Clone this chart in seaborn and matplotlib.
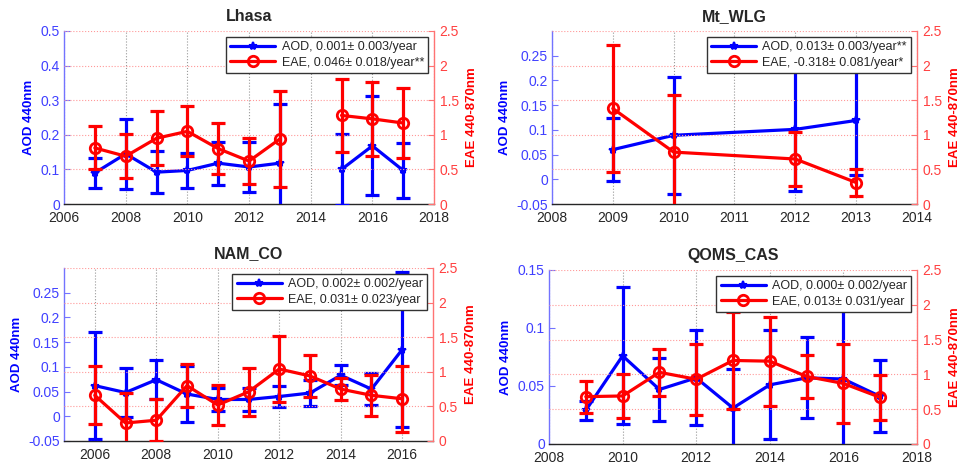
import numpy as np
import pandas as pd
import matplotlib
matplotlib.use("Agg")
import matplotlib.pyplot as plt
from matplotlib.lines import Line2D
from matplotlib.ticker import FuncFormatter
import seaborn as sns

nan = np.nan

# ---- Lhasa ----
lhasa_years = [2007, 2008, 2009, 2010, 2011, 2012, 2013, 2014, 2015, 2016, 2017]
lhasa_aod = [0.090, 0.145, 0.092, 0.097, 0.118, 0.107, 0.118, nan, 0.100, 0.168, 0.097]
lhasa_aod_sd = [0.044, 0.102, 0.060, 0.050, 0.062, 0.072, 0.170, nan, 0.103, 0.143, 0.080]
lhasa_eae = [0.81, 0.69, 0.95, 1.05, 0.80, 0.62, 0.94, nan, 1.28, 1.23, 1.17]
lhasa_eae_sd = [0.31, 0.32, 0.39, 0.36, 0.37, 0.33, 0.70, nan, 0.53, 0.53, 0.51]
lhasa_labels = ["AOD, 0.001\u00b1 0.003/year", "EAE, 0.046\u00b1 0.018/year**"]

# ---- Mt_WLG ----
wlg_years = [2009, 2010, 2012, 2013]
wlg_aod = [0.060, 0.089, 0.101, 0.119]
wlg_aod_sd = [0.064, 0.118, 0.125, 0.110]
wlg_eae = [1.38, 0.75, 0.65, 0.31]
wlg_eae_sd = [0.92, 0.82, 0.39, 0.19]
wlg_labels = ["AOD, 0.013\u00b1 0.003/year**", "EAE, -0.318\u00b1 0.081/year*"]

# ---- NAM_CO ----
nam_years = [2006, 2007, 2008, 2009, 2010, 2011, 2012, 2013, 2014, 2015, 2016]
nam_aod = [0.062, 0.048, 0.074, 0.045, 0.034, 0.034, 0.040, 0.047, 0.083, 0.055, 0.135]
nam_aod_sd = [0.108, 0.049, 0.040, 0.056, 0.024, 0.024, 0.021, 0.026, 0.020, 0.033, 0.157]
nam_eae = [0.66, 0.26, 0.30, 0.80, 0.52, 0.71, 1.04, 0.94, 0.75, 0.66, 0.61]
nam_eae_sd = [0.42, 0.43, 0.30, 0.31, 0.29, 0.345, 0.47, 0.305, 0.16, 0.295, 0.475]
nam_labels = ["AOD, 0.002\u00b1 0.002/year", "EAE, 0.031\u00b1 0.023/year"]

# ---- QOMS_CAS ----
qoms_years = [2009, 2010, 2011, 2012, 2013, 2014, 2015, 2016, 2017]
qoms_aod = [0.029, 0.076, 0.047, 0.057, 0.031, 0.051, 0.057, 0.056, 0.041]
qoms_aod_sd = [0.008, 0.059, 0.027, 0.041, 0.034, 0.047, 0.035, 0.062, 0.031]
qoms_eae = [0.68, 0.69, 1.03, 0.93, 1.20, 1.19, 0.97, 0.87, 0.67]
qoms_eae_sd = [0.23, 0.31, 0.34, 0.51, 0.70, 0.64, 0.305, 0.565, 0.325]
qoms_labels = ["AOD, 0.000\u00b1 0.002/year", "EAE, 0.013\u00b1 0.031/year"]

eae_ticks = [0, 0.5, 1, 1.5, 2, 2.5]

stations = [
    dict(title="Lhasa", years=lhasa_years, aod=lhasa_aod, aod_sd=lhasa_aod_sd,
         eae=lhasa_eae, eae_sd=lhasa_eae_sd, labels=lhasa_labels,
         xlim=(2006, 2018), xticks=[2006, 2008, 2010, 2012, 2014, 2016, 2018],
         ylim=(0, 0.5), yticks=[0, 0.1, 0.2, 0.3, 0.4, 0.5],
         pos=[0.0665, 0.5641, 0.3842, 0.3697]),
    dict(title="Mt_WLG", years=wlg_years, aod=wlg_aod, aod_sd=wlg_aod_sd,
         eae=wlg_eae, eae_sd=wlg_eae_sd, labels=wlg_labels,
         xlim=(2008, 2014), xticks=[2008, 2009, 2010, 2011, 2012, 2013, 2014],
         ylim=(-0.05, 0.3), yticks=[-0.05, 0, 0.05, 0.1, 0.15, 0.2, 0.25],
         pos=[0.5732, 0.5641, 0.3790, 0.3697]),
    dict(title="NAM_CO", years=nam_years, aod=nam_aod, aod_sd=nam_aod_sd,
         eae=nam_eae, eae_sd=nam_eae_sd, labels=nam_labels,
         xlim=(2005, 2017), xticks=[2006, 2008, 2010, 2012, 2014, 2016],
         ylim=(-0.05, 0.3), yticks=[-0.05, 0, 0.05, 0.1, 0.15, 0.2, 0.25],
         pos=[0.0665, 0.0577, 0.3831, 0.3697]),
    dict(title="QOMS_CAS", years=qoms_years, aod=qoms_aod, aod_sd=qoms_aod_sd,
         eae=qoms_eae, eae_sd=qoms_eae_sd, labels=qoms_labels,
         xlim=(2008, 2018), xticks=[2008, 2010, 2012, 2014, 2016, 2018],
         ylim=(0, 0.15), yticks=[0, 0.05, 0.1, 0.15],
         pos=[0.5701, 0.0513, 0.3821, 0.3718]),
]

sns.set_style("white")
plt.rcParams["font.family"] = ["Liberation Sans", "DejaVu Sans"]
plt.rcParams["axes.unicode_minus"] = False

BLUE = (0, 0, 1)
RED = (1, 0, 0)
BLUE_TXT = (0.25, 0.25, 1)
RED_TXT = (1, 0.25, 0.25)
fmt = FuncFormatter(lambda v, p: f"{v:g}")


def draw_series(ax, years, mean, sd, color, marker, mkw):
    df = pd.DataFrame({"year": years, "value": mean, "sd": sd})
    # break the line wherever a year has no data
    df["seg"] = df["value"].isna().cumsum()
    df = df.dropna()
    for _, seg in df.groupby("seg"):
        sns.lineplot(data=seg, x="year", y="value", ax=ax, color=color,
                     linewidth=2.3, marker=marker, legend=False, **mkw)
    ax.errorbar(df["year"], df["value"], yerr=df["sd"], fmt="none",
                ecolor=color, elinewidth=2.3, capsize=5, capthick=2.3, zorder=3)


fig = plt.figure(figsize=(9.63, 4.68), dpi=100)

for st in stations:
    ax = fig.add_axes(st["pos"])
    ax2 = ax.twinx()

    aod_kw = dict(markersize=6, markeredgecolor=BLUE, markerfacecolor=BLUE,
                  markeredgewidth=1.5)
    eae_kw = dict(markersize=7.5, markeredgecolor=RED, markerfacecolor="none",
                  markeredgewidth=2.0)
    draw_series(ax, st["years"], st["aod"], st["aod_sd"], BLUE, "*", aod_kw)
    draw_series(ax2, st["years"], st["eae"], st["eae_sd"], RED, "o", eae_kw)

    ax.set_xlim(*st["xlim"])
    ax.set_xticks(st["xticks"])
    ax.set_ylim(*st["ylim"])
    ax.set_yticks(st["yticks"])
    ax.yaxis.set_major_formatter(fmt)
    ax2.set_ylim(0, 2.5)
    ax2.set_yticks(eae_ticks)
    ax2.yaxis.set_major_formatter(fmt)

    # vertical grid on the year axis, horizontal grid from the EAE axis
    ax.grid(axis="x", linestyle=":", color="0.6", linewidth=0.8)
    ax.grid(axis="y", visible=False)
    ax2.grid(axis="y", linestyle=":", color=(1, 0.6, 0.6), linewidth=0.8)
    ax2.grid(axis="x", visible=False)
    ax.set_axisbelow(True)

    for sp in ["top", "right"]:
        ax.spines[sp].set_visible(False)
    for sp in ["top", "left", "bottom"]:
        ax2.spines[sp].set_visible(False)
    ax.spines["left"].set_color((0.45, 0.45, 1))
    ax.spines["left"].set_linewidth(1.0)
    ax.spines["bottom"].set_color("0.15")
    ax.spines["bottom"].set_linewidth(1.0)
    ax2.spines["right"].set_color((1, 0.45, 0.45))
    ax2.spines["right"].set_linewidth(1.0)

    ax.tick_params(axis="x", direction="in", length=4, width=0.8,
                   colors="0.15", labelsize=10, pad=5)
    ax.tick_params(axis="y", direction="in", length=4, width=0.8,
                   color=(0.45, 0.45, 1), labelcolor=BLUE_TXT, labelsize=10, pad=3)
    ax2.tick_params(axis="y", direction="in", length=4, width=0.8,
                    color=(1, 0.45, 0.45), labelcolor=RED_TXT, labelsize=10, pad=4)

    ax.set_xlabel("")
    ax.set_ylabel("AOD 440nm", color=BLUE, fontsize=9.5, fontweight="bold", labelpad=4)
    ax2.set_ylabel("EAE 440-870nm", color=RED, fontsize=9.5, fontweight="bold", labelpad=5)
    ax.set_title(st["title"], fontsize=11.5, fontweight="bold", pad=7)

    handles = [
        Line2D([], [], color=BLUE, linewidth=2.3, marker="*", **aod_kw),
        Line2D([], [], color=RED, linewidth=2.3, marker="o", **eae_kw),
    ]
    leg = ax2.legend(handles, st["labels"], loc="upper right", fontsize=9,
                     frameon=True, fancybox=False, framealpha=1,
                     edgecolor="0.2", borderpad=0.35, labelspacing=0.3,
                     handlelength=3.6, handletextpad=0.5, borderaxespad=0.45)
    leg.get_frame().set_linewidth(1.0)
    leg.set_zorder(10)

fig.savefig("out.png", dpi=100)
